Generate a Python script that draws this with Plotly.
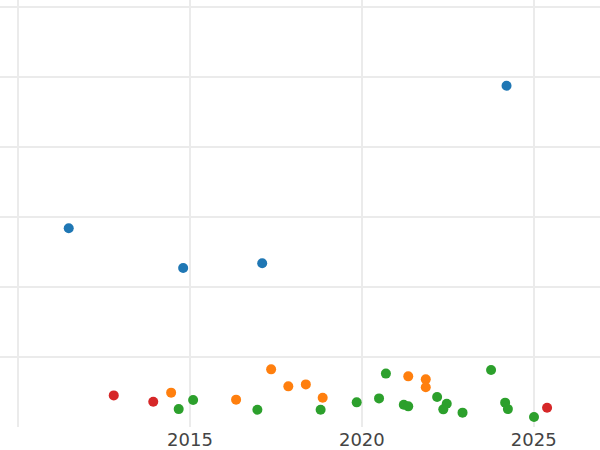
import plotly.graph_objects as go

# Series values (x = year, y = value)
blue_x = [2011.47, 2014.80, 2017.10, 2024.21]
blue_y = [28.41, 22.73, 23.40, 48.77]

orange_x = [2014.45, 2016.34, 2017.36, 2017.86, 2018.37, 2018.86, 2021.35, 2021.86, 2021.86]
orange_y = [4.91, 3.91, 8.24, 5.81, 6.09, 4.19, 7.24, 6.81, 5.67]

green_x = [2014.67, 2015.09, 2016.96, 2018.80, 2019.85, 2020.50, 2020.70, 2021.22, 2021.35,
           2022.19, 2022.47, 2022.37, 2022.93, 2023.76, 2024.17, 2024.25, 2025.01]
green_y = [2.56, 3.85, 2.47, 2.47, 3.52, 4.09, 7.63, 3.19, 2.95,
           4.28, 3.33, 2.52, 2.05, 8.14, 3.48, 2.56, 1.42]

red_x = [2012.78, 2013.93, 2025.39]
red_y = [4.52, 3.62, 2.76]

x_tickvals = [2010, 2015, 2020, 2025]
x_ticktext = ["2010", "2015", "2020", "2025"]

series = [
    ("Series 1", blue_x, blue_y, "#1f77b4"),
    ("Series 2", orange_x, orange_y, "#ff7f0e"),
    ("Series 3", green_x, green_y, "#2ca02c"),
    ("Series 4", red_x, red_y, "#d62728"),
]

fig = go.Figure()
for name, xs, ys, color in series:
    fig.add_trace(go.Scatter(
        x=xs, y=ys, mode="markers", name=name,
        marker=dict(color=color, size=10, line=dict(width=0)),
        showlegend=False,
    ))

fig.update_layout(
    width=600, height=450,
    margin=dict(l=0, r=0, t=0, b=23),
    paper_bgcolor="white", plot_bgcolor="white",
    font=dict(family="DejaVu Sans", size=18, color="#444"),
)
fig.update_xaxes(
    range=[2009.47, 2026.93],
    tickvals=x_tickvals, ticktext=x_ticktext,
    showgrid=True, gridcolor="#ebebeb", gridwidth=1.5,
    zeroline=False, showline=False, ticks="",
)
fig.update_yaxes(
    range=[0, 61.03], dtick=10, tick0=0,
    showgrid=True, gridcolor="#ebebeb", gridwidth=1.5,
    zeroline=False, showline=False, showticklabels=False, ticks="",
)

fig.write_html(
    "out.html",
    config={"displayModeBar": False},
    post_script="document.body.style.margin='0';",
)
